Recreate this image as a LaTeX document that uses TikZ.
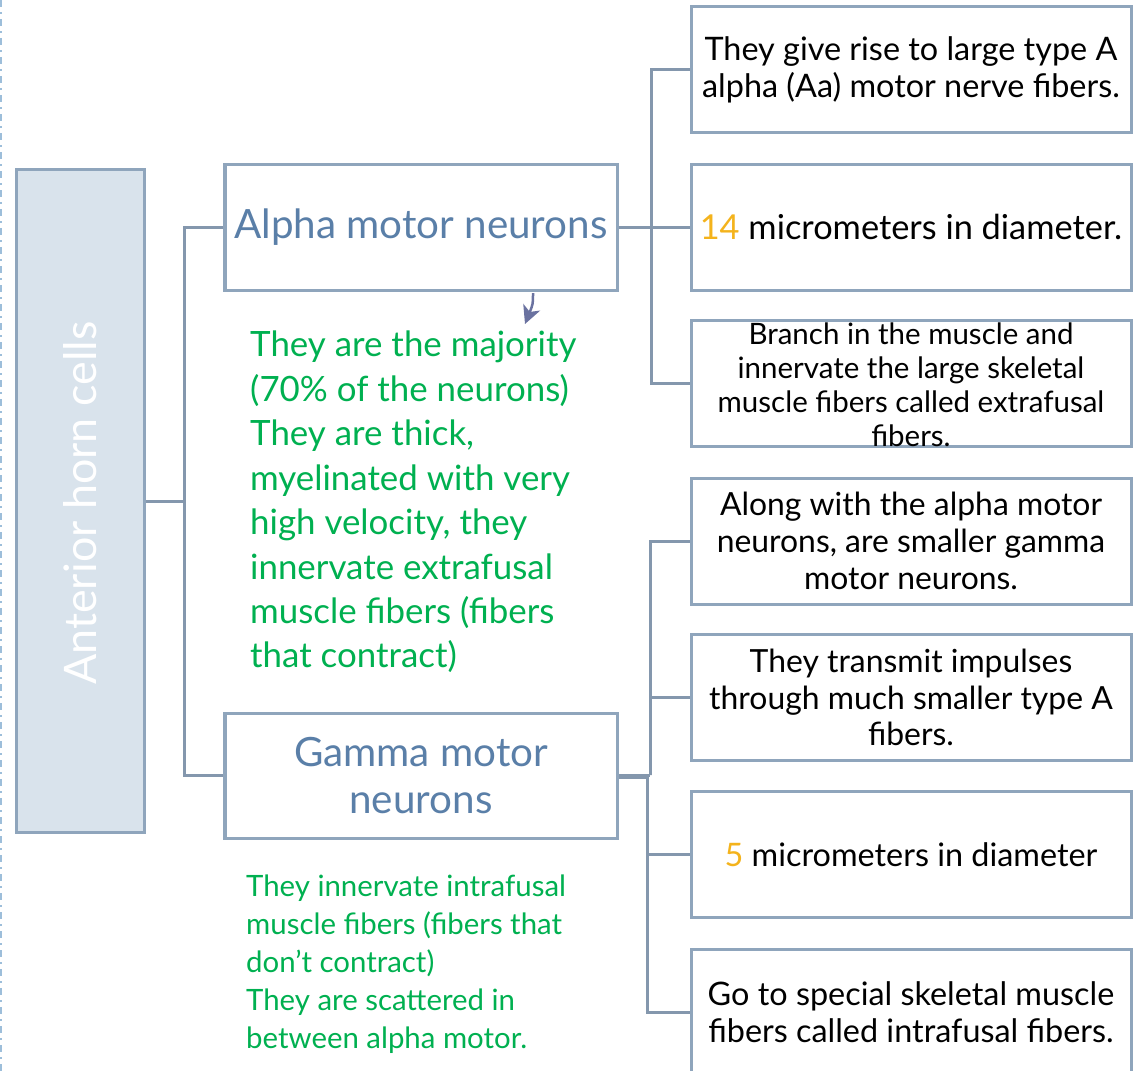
\documentclass[tikz,border=0pt]{standalone}
\usepackage{fontspec}
\setmainfont{Lato}
\usetikzlibrary{arrows.meta,calc}
\definecolor{boxline}{HTML}{8FA5BC}
\definecolor{connline}{HTML}{8497AD}
\definecolor{ahcfill}{HTML}{D9E3EC}
\definecolor{headtext}{HTML}{5A7FA8}
\definecolor{notegreen}{HTML}{00B050}
\definecolor{numorange}{HTML}{F4B31C}
\definecolor{arrowslate}{HTML}{6A72A0}
\definecolor{edgedots}{HTML}{9DBEDA}
\begin{document}
\begin{tikzpicture}[x=1bp,y=-1bp,
  rbox/.style={draw=boxline,line width=3bp,fill=white,inner sep=0pt,
    minimum width=440bp,minimum height=126bp,align=center,
    font=\fontsize{32.5}{37}\selectfont},
  headbox/.style={draw=boxline,line width=3bp,fill=white,inner sep=0pt,
    minimum width=392bp,minimum height=126bp,align=center,text=headtext,
    font=\fontsize{40.5}{47}\selectfont},
  conn/.style={draw=connline,line width=3bp},
  note/.style={text=notegreen,align=left,inner sep=0pt,anchor=north west}]
\useasboundingbox (0,0) rectangle (1139,1071);

% dash-dot rule along the left edge
\draw[edgedots,line width=2.5bp,dash pattern=on 7bp off 5bp on 2bp off 5bp] (1,0) -- (1,1071);

% root box
\node[draw=boxline,line width=3bp,fill=ahcfill,minimum width=127bp,
  minimum height=662bp,inner sep=0pt] (ahc) at (80.5,501) {};
\node[rotate=90,text=white,font=\fontsize{45}{50}\selectfont] (ahct) at ($(ahc.center)+(0,2)$) {Anterior horn cells};

% neuron types
\node[headbox] (alpha) at (421,227) {Alpha motor neurons};
\node[headbox,minimum height=125bp] (gamma) at (421,775.5) {Gamma motor\\neurons};

% alpha facts
\node[rbox] (r1) at (911,69.5) {They give rise to large type A\\alpha (Aa) motor nerve fibers.};
\node[rbox,font=\fontsize{34.5}{37}\selectfont] (r2) at (911,227) {{\color{numorange}14} micrometers in diameter.};
\node[rbox] (r3) at (911,383.5) {};
\node[font=\fontsize{29.6}{34}\selectfont,align=center] (r3t) at ($(r3.center)+(0,1)$)
  {Branch in the muscle and\\innervate the large skeletal\\muscle fibers called extrafusal\\fibers.};

% gamma facts
\node[rbox,font=\fontsize{32}{37}\selectfont] (r4) at (911,541) {Along with the alpha motor\\neurons, are smaller gamma\\motor neurons.};
\node[rbox,font=\fontsize{32}{37}\selectfont] (r5) at (911,697.5) {They transmit impulses\\through much smaller type A\\fibers.};
\node[rbox] (r6) at (911,854.5) {{\color{numorange}5} micrometers in diameter};
\node[rbox] (r7) at (911,1012) {Go to special skeletal muscle\\fibers called intrafusal fibers.};

% connectors
\coordinate (rootbus) at (184,501);
\draw[conn] (ahc.east) -- (rootbus);
\draw[conn] (alpha.west) -| (rootbus) |- (gamma.west);

\coordinate (alphabus) at (651,227);
\draw[conn] (alpha.east) -- (r2.west);
\draw[conn] (r1.west) -| (alphabus) |- (r3.west);

\coordinate (gammaup) at (650,775);
\coordinate (gammadown) at (647,777);
\draw[conn] (gamma.east |- gammaup) -- (gammaup);
\draw[conn] (r4.west) -| (gammaup) |- (r5.west);
\draw[conn] (gamma.east |- gammadown) -- (gammadown);
\draw[conn] (r6.west) -| (gammadown) |- (r7.west);

% small pointer below the alpha box
\coordinate (ptr) at ($(alpha.south)+(112,1.5)$);
\coordinate (ptrtip) at ($(ptr)+(-8,31)$);
\draw[arrowslate,line width=2.5bp,-{Stealth[length=18bp,width=18bp,inset=5bp]}]
  (ptr) .. controls ($(ptr)+(0,11)$) .. (ptrtip);

% notes
\node[note,font=\fontsize{35}{44.6}\selectfont] (alphanote) at (250,331)
  {They are the majority\\(70\% of the neurons)\\They are thick,\\myelinated with very\\high velocity, they\\innervate extrafusal\\muscle fibers (fibers\\that contract)};
\node[note,font=\fontsize{29.5}{38}\selectfont] (gammanote) at (246,875)
  {They innervate intrafusal\\muscle fibers (fibers that\\don’t contract)\\They are scattered in\\between alpha motor.};
\end{tikzpicture}
\end{document}
